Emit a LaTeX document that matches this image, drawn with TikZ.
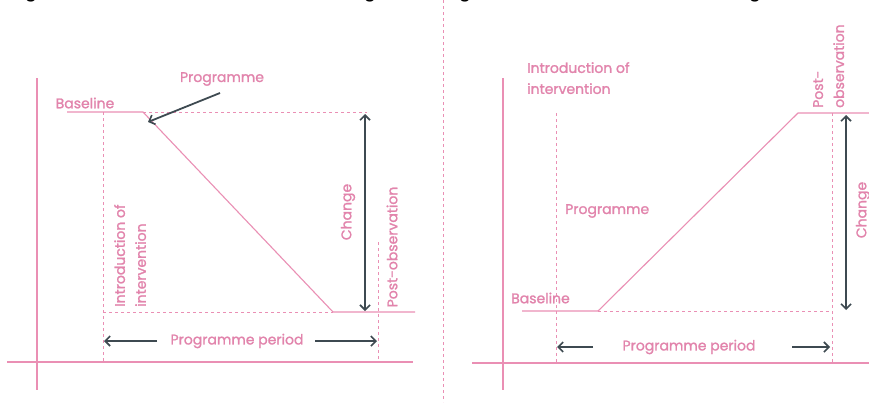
\documentclass[tikz,border=0pt]{standalone}
\usepackage{fontspec}
\setmainfont{Poppins}[FakeBold=1.3]
\newfontfamily\capfont{Liberation Sans}
\usetikzlibrary{arrows.meta}
\definecolor{pinkline}{HTML}{EA8FB4}
\definecolor{pinktext}{HTML}{E284AC}
\definecolor{darkarrow}{HTML}{3E4A51}
\tikzset{
  axisline/.style={pinkline, line width=1.1pt},
  curve/.style={pinkline, line width=1.1pt, line join=round},
  guide/.style={pinkline, line width=0.9pt, dash pattern=on 3pt off 3pt},
  divider/.style={pinkline, line width=1pt, dash pattern=on 3pt off 3pt},
  darrow/.style={darkarrow, line width=1.8pt, -{Straight Barb[length=5pt,width=10pt,line width=1.6pt]}},
  dboth/.style={darkarrow, line width=1.8pt, {Straight Barb[length=5pt,width=10pt,line width=1.6pt]}-{Straight Barb[length=5pt,width=10pt,line width=1.6pt]}},
  lbl/.style={text=pinktext, font=\fontsize{14}{21}\selectfont, inner sep=0pt},
  frag/.style={text=black, font=\capfont\fontsize{22}{24}\selectfont, inner sep=0pt, anchor=base}
}
\begin{document}
\begin{tikzpicture}[x=1pt,y=-1pt]
\clip (0,0) rectangle (869,402);
\fill[white] (0,0) rectangle (869,402);

% caption fragments at top edge
\node[frag] (g1) at (31,-3) {g};
\node[frag] (g2) at (370,-3) {g};
\node[frag] (g3) at (465,-3) {g};
\node[frag] (g4) at (755,-3) {g};

% ===== Left panel =====
\coordinate (LVa) at (37,78);
\coordinate (LVb) at (37,390);
\coordinate (LHa) at (7,362);
\coordinate (LHb) at (413,362);
\draw[axisline] (LVa) -- (LVb);
\draw[axisline] (LHa) -- (LHb);

\coordinate (LB0) at (67,112);
\coordinate (LK1) at (143,112);
\coordinate (LK2) at (333,312);
\coordinate (LE) at (415,312);
\draw[curve] (LB0) -- (LK1) -- (LK2) -- (LE);

\coordinate (LTR) at (367,112);
\coordinate (LI1) at (103,112);
\coordinate (LI2) at (103,362);
\coordinate (LIb) at (103,312);
\coordinate (LP1) at (378,242);
\coordinate (LP2) at (378,362);
\draw[guide] (LK1) -- (LTR);
\draw[guide] (LI1) -- (LI2);
\draw[guide] (LIb) -- (LK2);
\draw[guide] (LP1) -- (LP2);

\coordinate (LC1) at (365,114);
\coordinate (LC2) at (365,311);
\draw[dboth] (LC1) -- (LC2);

\node[lbl] (LPP) at (237,341) {Programme period};
\coordinate (LPPl) at (104,341);
\coordinate (LPPr) at (377,341);
\coordinate (LPPls) at (157,341);
\coordinate (LPPrs) at (315,341);
\draw[darrow] (LPPls) -- (LPPl);
\draw[darrow] (LPPrs) -- (LPPr);

\node[lbl] (LBase) at (85,103) {Baseline};
\node[lbl] (LProg) at (222,79) {Programme};
\coordinate (LPs) at (220,93);
\coordinate (LPt) at (148,122);
\draw[darrow] (LPs) -- (LPt);

\node[lbl, rotate=90, anchor=north west, align=left] (LIntro) at (114,307) {Introduction of\\intervention};
\node[lbl, rotate=90] (LChange) at (348,212) {Change};
\node[lbl, rotate=90] (LPost) at (392,247) {Post-observation};

% ===== Divider =====
\coordinate (Dt) at (443,0);
\coordinate (Db) at (443,402);
\draw[divider] (Dt) -- (Db);

% ===== Right panel =====
\coordinate (RVa) at (503,78);
\coordinate (RVb) at (503,390);
\coordinate (RHa) at (472,363);
\coordinate (RHb) at (875,363);
\draw[axisline] (RVa) -- (RVb);
\draw[axisline] (RHa) -- (RHb);

\coordinate (RB0) at (522,311);
\coordinate (RK1) at (598,311);
\coordinate (RK2) at (798,113);
\coordinate (RE) at (875,113);
\draw[curve] (RB0) -- (RK1) -- (RK2) -- (RE);

\coordinate (RI1) at (556,113);
\coordinate (RI2) at (556,363);
\coordinate (RBr) at (832,311);
\coordinate (RP1) at (832,113);
\coordinate (RP2) at (832,363);
\draw[guide] (RI1) -- (RI2);
\draw[guide] (RK1) -- (RBr);
\draw[guide] (RP1) -- (RP2);

\coordinate (RC1) at (846,115);
\coordinate (RC2) at (846,310);
\draw[dboth] (RC1) -- (RC2);

\node[lbl] (RPP) at (689,347) {Programme period};
\coordinate (RPPl) at (557,347);
\coordinate (RPPr) at (830,347);
\coordinate (RPPls) at (593,347);
\coordinate (RPPrs) at (792,347);
\draw[darrow] (RPPls) -- (RPPl);
\draw[darrow] (RPPrs) -- (RPPr);

\node[lbl, anchor=west] (RProg) at (565,211) {Programme};
\node[lbl, anchor=north west, align=left] (RIntro) at (527,62) {Introduction of\\intervention};
\node[lbl, anchor=west] (RBase) at (511,298) {Baseline};
\node[lbl, rotate=90, anchor=north west, align=left] (RPost) at (813,108) {Post-\\observation};
\node[lbl, rotate=90] (RChange) at (863,210) {Change};
\end{tikzpicture}
\end{document}
